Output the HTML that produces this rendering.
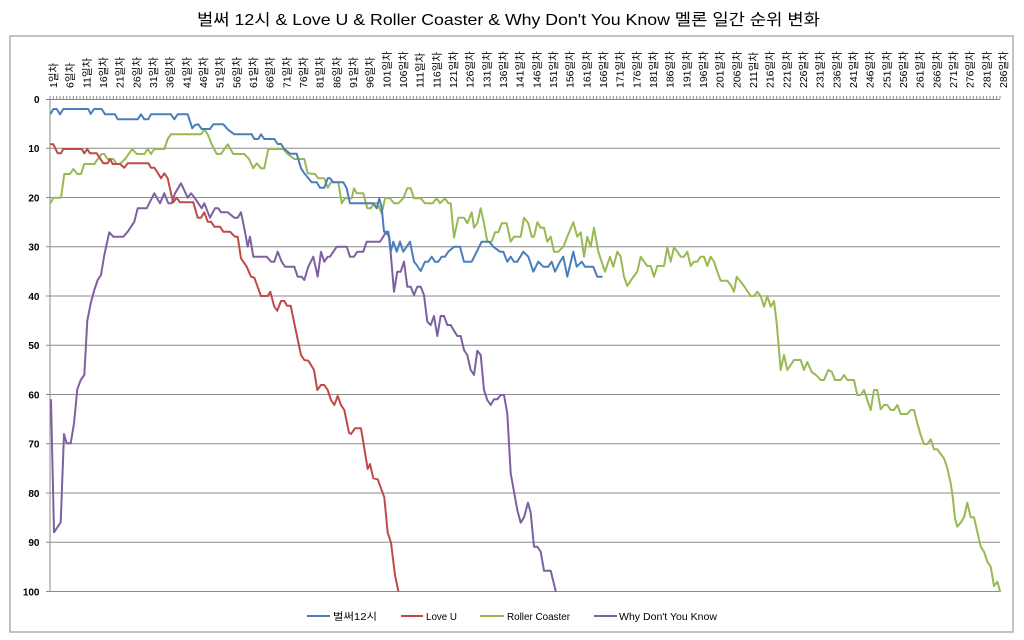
<!DOCTYPE html>
<html><head><meta charset="utf-8"><style>
html,body{margin:0;padding:0;background:#fff;}
svg{display:block;}
text{font-family:"Liberation Sans","Noto Sans CJK KR",sans-serif;fill:#000;}
</style></head><body>
<svg width="1024" height="640" viewBox="0 0 1024 640" xmlns="http://www.w3.org/2000/svg">
<defs>
<pattern id="tk" x="49.5" y="96" width="3.3333" height="3" patternUnits="userSpaceOnUse"><rect x="0" y="0" width="1" height="3" fill="#8a8a8a"/></pattern>
</defs>
<rect x="0" y="0" width="1024" height="640" fill="#fff"/>
<rect x="10" y="36" width="1003" height="596" fill="none" stroke="#b4b4b4" stroke-width="1.6"/>
<text x="508.5" y="25" font-size="16" text-anchor="middle" textLength="623" lengthAdjust="spacingAndGlyphs">벌써 12시 &amp; Love U &amp; Roller Coaster &amp; Why Don't You Know 멜론 일간 순위 변화</text>

<g stroke="#8a8a8a" stroke-width="1" fill="none">
<line x1="50" y1="148.25" x2="1000" y2="148.25"/>
<line x1="50" y1="197.5" x2="1000" y2="197.5"/>
<line x1="50" y1="246.75" x2="1000" y2="246.75"/>
<line x1="50" y1="296" x2="1000" y2="296"/>
<line x1="50" y1="345.25" x2="1000" y2="345.25"/>
<line x1="50" y1="394.5" x2="1000" y2="394.5"/>
<line x1="50" y1="443.75" x2="1000" y2="443.75"/>
<line x1="50" y1="493" x2="1000" y2="493"/>
<line x1="50" y1="542.25" x2="1000" y2="542.25"/>
<line x1="50" y1="591.5" x2="1000" y2="591.5"/>
<line x1="50" y1="99.5" x2="1000" y2="99.5"/>
<line x1="50" y1="99" x2="50" y2="591.5"/>
<line x1="46" y1="99.5" x2="50" y2="99.5"/>
<line x1="46" y1="148.25" x2="50" y2="148.25"/>
<line x1="46" y1="197.5" x2="50" y2="197.5"/>
<line x1="46" y1="246.75" x2="50" y2="246.75"/>
<line x1="46" y1="296" x2="50" y2="296"/>
<line x1="46" y1="345.25" x2="50" y2="345.25"/>
<line x1="46" y1="394.5" x2="50" y2="394.5"/>
<line x1="46" y1="443.75" x2="50" y2="443.75"/>
<line x1="46" y1="493" x2="50" y2="493"/>
<line x1="46" y1="542.25" x2="50" y2="542.25"/>
<line x1="46" y1="591.5" x2="50" y2="591.5"/>
</g>
<rect x="49.5" y="96" width="951" height="3" fill="url(#tk)"/>

<g font-size="10" font-weight="bold" text-anchor="end">
<text x="39.5" y="103">0</text>
<text x="39.5" y="152">10</text>
<text x="39.5" y="201.5">20</text>
<text x="39.5" y="250.5">30</text>
<text x="39.5" y="300">40</text>
<text x="39.5" y="349">50</text>
<text x="39.5" y="398.5">60</text>
<text x="39.5" y="447.5">70</text>
<text x="39.5" y="497">80</text>
<text x="39.5" y="546">90</text>
<text x="39.5" y="595.5">100</text>
</g>

<g font-size="10.5">
<text transform="translate(57,88) rotate(-90)">1일차</text>
<text transform="translate(73.67,88) rotate(-90)">6일차</text>
<text transform="translate(90.33,88) rotate(-90)">11일차</text>
<text transform="translate(107,88) rotate(-90)">16일차</text>
<text transform="translate(123.67,88) rotate(-90)">21일차</text>
<text transform="translate(140.33,88) rotate(-90)">26일차</text>
<text transform="translate(157,88) rotate(-90)">31일차</text>
<text transform="translate(173.67,88) rotate(-90)">36일차</text>
<text transform="translate(190.33,88) rotate(-90)">41일차</text>
<text transform="translate(207,88) rotate(-90)">46일차</text>
<text transform="translate(223.67,88) rotate(-90)">51일차</text>
<text transform="translate(240.33,88) rotate(-90)">56일차</text>
<text transform="translate(257,88) rotate(-90)">61일차</text>
<text transform="translate(273.67,88) rotate(-90)">66일차</text>
<text transform="translate(290.33,88) rotate(-90)">71일차</text>
<text transform="translate(307,88) rotate(-90)">76일차</text>
<text transform="translate(323.67,88) rotate(-90)">81일차</text>
<text transform="translate(340.33,88) rotate(-90)">86일차</text>
<text transform="translate(357,88) rotate(-90)">91일차</text>
<text transform="translate(373.67,88) rotate(-90)">96일차</text>
<text transform="translate(390.33,88) rotate(-90)">101일차</text>
<text transform="translate(407,88) rotate(-90)">106일차</text>
<text transform="translate(423.67,88) rotate(-90)">111일차</text>
<text transform="translate(440.33,88) rotate(-90)">116일차</text>
<text transform="translate(457,88) rotate(-90)">121일차</text>
<text transform="translate(473.67,88) rotate(-90)">126일차</text>
<text transform="translate(490.33,88) rotate(-90)">131일차</text>
<text transform="translate(507,88) rotate(-90)">136일차</text>
<text transform="translate(523.67,88) rotate(-90)">141일차</text>
<text transform="translate(540.33,88) rotate(-90)">146일차</text>
<text transform="translate(557,88) rotate(-90)">151일차</text>
<text transform="translate(573.67,88) rotate(-90)">156일차</text>
<text transform="translate(590.33,88) rotate(-90)">161일차</text>
<text transform="translate(607,88) rotate(-90)">166일차</text>
<text transform="translate(623.67,88) rotate(-90)">171일차</text>
<text transform="translate(640.33,88) rotate(-90)">176일차</text>
<text transform="translate(657,88) rotate(-90)">181일차</text>
<text transform="translate(673.67,88) rotate(-90)">186일차</text>
<text transform="translate(690.33,88) rotate(-90)">191일차</text>
<text transform="translate(707,88) rotate(-90)">196일차</text>
<text transform="translate(723.67,88) rotate(-90)">201일차</text>
<text transform="translate(740.33,88) rotate(-90)">206일차</text>
<text transform="translate(757,88) rotate(-90)">211일차</text>
<text transform="translate(773.67,88) rotate(-90)">216일차</text>
<text transform="translate(790.33,88) rotate(-90)">221일차</text>
<text transform="translate(807,88) rotate(-90)">226일차</text>
<text transform="translate(823.67,88) rotate(-90)">231일차</text>
<text transform="translate(840.33,88) rotate(-90)">236일차</text>
<text transform="translate(857,88) rotate(-90)">241일차</text>
<text transform="translate(873.67,88) rotate(-90)">246일차</text>
<text transform="translate(890.33,88) rotate(-90)">251일차</text>
<text transform="translate(907,88) rotate(-90)">256일차</text>
<text transform="translate(923.67,88) rotate(-90)">261일차</text>
<text transform="translate(940.33,88) rotate(-90)">266일차</text>
<text transform="translate(957,88) rotate(-90)">271일차</text>
<text transform="translate(973.67,88) rotate(-90)">276일차</text>
<text transform="translate(990.33,88) rotate(-90)">281일차</text>
<text transform="translate(1007,88) rotate(-90)">286일차</text>
</g>

<g fill="none" stroke-width="2" stroke-linejoin="round" stroke-linecap="round">
<!-- Roller Coaster (green) -->
<polyline stroke="#98B954" points="51,202.3 53.3,197.7 61,197.7 64.3,174 70,174 73.3,169 77.3,174 81,174 84.3,164 94.3,164 98.3,158.3 101.7,154 104.3,154 107.7,159 113.3,159 116.7,164 120,164 125,159 132.3,149 136.7,154 144.3,154 147.7,149 151,154 154.3,149 164.3,149 167.7,139 171,134.3 201,134.3 204.3,129.3 207.7,134.3 211.7,144.3 216.7,154 221,154 227.7,144.3 233.3,154 244.3,154 249,159 253.3,168.3 256.7,163.3 261,168.3 264.3,168.3 268.3,149 283.3,149 287.7,154 294.3,159 304.3,159 307.7,173.3 315,174 318.3,178.3 324.3,178.3 327.7,187.7 331,182.3 338.3,182.3 341.7,203.3 345,198.3 351.7,198.3 354,188.3 356.7,193.3 363.3,193.3 367.3,208.3 370.7,208.3 374,203.3 377.3,203.3 381.7,213.3 385,198.3 390,198.3 394,203.3 398.3,203.3 403.3,198.3 407.3,188.3 410.7,188.3 414,198.3 420.7,198.3 425,203.3 432.7,203.3 436.7,198.3 440,203.3 445,198.3 448.3,203.3 450.7,203.3 454,237.7 458.3,217.7 464,217.7 467.3,223.3 471.7,212.3 474,227.7 477.3,223.3 480.7,208.3 484,223.3 487.3,241.7 491.7,241.7 495,232.3 498.3,232.3 501.7,223.3 506.7,223.3 510.7,241.7 514,236.7 520.7,236.7 524,217.7 528.3,223.3 531.7,236.7 534,236.7 537.3,222.3 540.7,227.7 544,227.7 547.3,241.7 550.7,236.7 554,251.7 558.3,251.7 563.3,246.7 567.3,236.7 573.3,222.3 577.3,236.7 580.7,232.3 584,256.7 587.3,236.7 590.7,246.7 594,227.7 598.3,251.7 605,271.7 610,256.7 613.3,266.7 617.3,251.7 620.7,256.7 624,276.7 627.3,286 630.7,280.7 634,276 637.3,271.7 640.7,256.7 644,261.7 647.3,266 650.7,266 654,276.7 657.3,266 664,266 667.3,247.3 670.7,261.7 674,247.3 677.3,251.7 680.7,256.7 684,256.7 687.3,251.7 690.7,266 694,261.7 697.3,261.7 700.7,256.7 704,256.7 707.3,266 710.7,256.7 714,261.7 717.3,271.7 720.7,280.7 727.3,280.7 730.7,285 734,291.7 736.7,276.7 740.7,281.7 744,286 747.3,291 750.7,296 754,296 757.3,291.7 760.7,296 764,306.7 767.3,296 770.7,306.7 774,301 776.7,323.3 780.7,370 784,355 787.3,370 790.7,365 794,360 800.7,360 804,370 807.3,362 811.7,372 816,375 820.7,380 824,380 828.3,370 831.7,371.7 835,380 840.7,380 844,375 847.3,380 854,380 857.3,395 860.7,395 864,390 867.3,400 870.7,410 874,390 877.3,390 880.7,409.3 884,405 887.3,405 890.7,410 894,410 897.3,405 900.7,414 907.3,414 910.7,410 914,410 917.3,423.3 920.7,435 924,444 927.3,444 930.7,439.3 934,449.3 937.3,449.3 940.7,454 944,458.3 947.3,468.3 950.7,483.3 952.7,496.7 955,518.3 957.3,526.7 960.7,522.7 964,517.3 967.3,502.7 970.7,517.3 974,517.3 977.3,531.7 980.7,546.7 984,551.7 987.3,561.7 990.7,566.7 994,586 997.3,581.7 1000,591"/>
<!-- Why Don't You Know (purple) -->
<polyline stroke="#7D60A0" points="51,400 54,532.3 60.7,522.3 64,434 66.7,443.3 70.7,443.3 74,423.3 77.3,389.3 80.7,380 84.3,375 87.3,320.7 90.7,303.3 94.3,290 97.7,280 101,275 104.3,255 109.3,232.3 113.3,236.7 123.3,236.7 127.7,231.7 131,226.7 134.3,221.7 137.7,208.3 146.7,208.3 154.3,193.3 160,203.3 164.3,193.3 168.3,203.3 171.7,203.3 175,193.3 181,183.3 187.7,197.7 191,193.3 195,198.3 198.3,203.3 201.7,208.3 204.3,203.3 210,217.7 215,208.3 218.3,208.3 221,212.3 227.7,212.3 234.3,217.7 237.7,217.7 241,212.3 244.3,228.3 247.7,246.7 250,236.7 253.3,256.7 266.7,256.7 271,261.7 274.3,261.7 277.7,251.7 281.7,261.7 285,266.7 294.3,266.7 297.7,276.7 301.7,276.7 304.3,280 308.3,266.7 313.3,256.7 317.7,276.7 321,251.7 324.3,261.7 327.7,256.7 330,256.7 336.7,246.7 346.7,246.7 350,256.7 354,256.7 357.3,251.7 363.3,251.7 366.7,241.7 380,241.7 386,232.3 389.3,236.7 394,291.7 397.3,271.7 400.7,271.7 404,261.7 407.3,286.7 410.7,286.7 414,295 417.3,286.7 420.7,286.7 424,295 427.3,321.7 430.7,325 434,316 437.3,336 440.7,316 444,316 447.3,325 450.7,325 454,330.7 457.3,336 460.7,336 464,350 467.3,355 470.7,370 474,375 477.3,350.7 480.7,355 484,390 487.3,400 490.7,405 494,399.3 497.3,399.3 500.7,395 504,395 507.3,413.3 510.7,473.3 514,491.7 517.3,510 520.7,522.7 524,517.3 528,502.7 530.7,512.7 534,546.7 537.3,546.7 540.7,551.7 544,570.7 550.7,570.7 555.7,591"/>
<!-- Love U (red) -->
<polyline stroke="#BE4B48" points="51,144.3 53.3,144.3 57.7,153.3 61,153.3 63.3,149 81.7,149 84.3,153.3 87.3,149 90,153.3 96.7,153.3 100,158.3 103.3,163.3 107.7,163.3 110,159 112.7,164 120,164 124.3,167.7 127.7,163.3 148.3,163.3 151,167.7 154.3,167.7 157.7,172.7 161,178.3 164.3,173.3 167.7,178.3 171,193.3 173.3,202.3 176.7,197.7 180,202.3 193.3,202.3 197.7,217.7 201,217.7 204.3,212.3 207.7,221.7 211,221.7 214.3,226.7 220,226.7 223.3,231.7 230,231.7 235,236.7 237.7,236.7 241,258.3 246.7,266.7 251,276.7 254.3,277.7 261,296 267.7,296 270.3,291.7 274.3,306.7 277.3,310.7 281,301 284.3,301 287,305.7 290.7,305.7 294.3,323.3 301,355 304.3,360 308.3,360.7 311,365 314,370 317.3,390 321,385 324.3,385 327.7,390 331,400 334.3,405 337.7,396 341,405 344.3,410 349,432.7 351,434 355,428.3 361,428.3 364.3,448.3 367.7,469 370,464 373.3,478.3 377.7,479.3 384.3,497.3 387.7,532.7 391,542.7 395,575 398.3,591"/>
<!-- 벌써12시 (blue) -->
<polyline stroke="#4A7EBB" points="51,113.3 53.3,109 56.7,109 60,114.3 63.3,109 88.3,109 90.7,114 94,109 101.7,109 105,114.3 115,114.3 117.7,119.3 137.7,119.3 141,114.3 144.3,119.3 148.3,119.3 151,114.3 171,114.3 174.3,119.3 177.7,114.3 187.7,114.3 192.3,128.3 195,125 198.3,124.3 201.7,129 210,129 213.3,124.3 223.3,124.3 227.7,129.3 234.3,134.3 251.7,134.3 254.3,139 258.3,139 261,134.3 264.3,139 274.3,139 277.7,144 281,144 284.3,149 290,153.7 296.7,153.7 301,168.3 304.3,173.3 311.7,182.3 316.7,182.3 320,187.7 324.3,187.7 327.7,178.3 330,178.3 333.3,182.3 343.3,182.3 346.7,188.3 350,203.3 373.3,203.3 376.7,208.3 379.3,198.3 381.7,207.7 384,231.7 388.3,231.7 390.7,251.7 393.3,241.7 396.7,251.7 400,241.7 403.3,251.7 410,241.7 414,261.7 416.7,265 420.7,271 425,261.7 428.3,261.7 431.7,256.7 435,261.7 438.3,261.7 441.7,256.7 445,256.7 448.3,251.7 454,246.7 460,246.7 464,261.7 471.7,261.7 476.7,251.7 481.7,241.7 489.3,241.7 493.3,246.7 500,251.7 503.3,251.7 507.3,261.7 510.7,256.7 514,261.7 517.3,261.7 523.3,251.7 528.3,256.7 533.3,271.7 538.3,261.7 543.3,266.7 548.3,266.7 551.7,261.7 555,271.7 560,261.7 563.3,256.7 567.3,276.7 573.3,251.7 576.7,266.7 581.7,261.7 585,266.7 593.3,266.7 597.3,276.7 601.7,276.7"/>
</g>

<g stroke-width="2">
<line x1="307" y1="616" x2="330" y2="616" stroke="#4A7EBB"/>
<line x1="401" y1="616" x2="423" y2="616" stroke="#BE4B48"/>
<line x1="480" y1="616" x2="504" y2="616" stroke="#98B954"/>
<line x1="594" y1="616" x2="617" y2="616" stroke="#7D60A0"/>
</g>
<g font-size="10">
<text x="333" y="620" textLength="44" lengthAdjust="spacingAndGlyphs">벌써12시</text>
<text x="426" y="620" textLength="31" lengthAdjust="spacingAndGlyphs">Love U</text>
<text x="507" y="620" textLength="63" lengthAdjust="spacingAndGlyphs">Roller Coaster</text>
<text x="619" y="620" textLength="98" lengthAdjust="spacingAndGlyphs">Why Don't You Know</text>
</g>
</svg>
</body></html>
